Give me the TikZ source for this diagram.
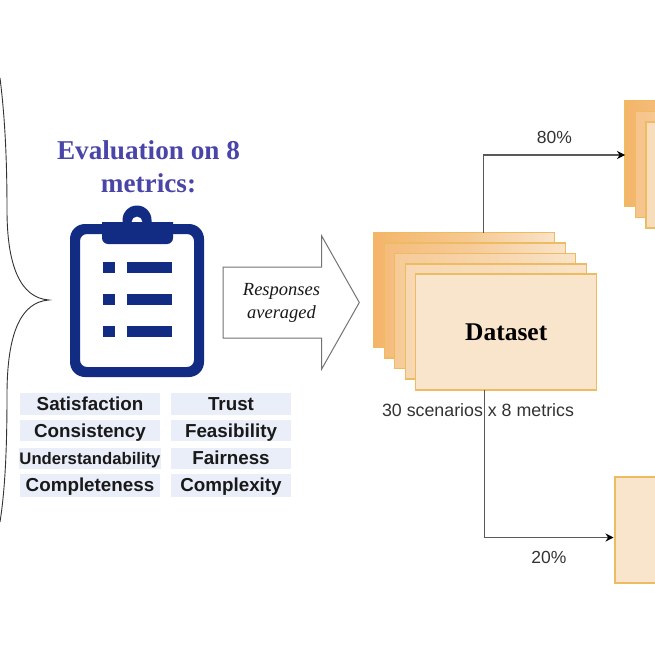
\documentclass[tikz,border=0pt]{standalone}
\usepackage{fontspec}
\setmainfont{Liberation Serif}
\setsansfont{Liberation Sans}
\usetikzlibrary{arrows.meta,calc}
\definecolor{edgeor}{HTML}{EDBB62}
\definecolor{front}{HTML}{F9E5CC}
\definecolor{indigo}{HTML}{4A45A8}
\definecolor{navy}{HTML}{122C83}
\definecolor{chip}{HTML}{E9EEF8}
\definecolor{ink}{HTML}{333333}
\definecolor{ga}{HTML}{F4B56A}
\definecolor{gb}{HTML}{F5BC7C}
\definecolor{gc}{HTML}{F6CB98}
\definecolor{gd}{HTML}{F7D8B2}
\definecolor{ge}{HTML}{F8DDBC}
\definecolor{gf}{HTML}{F6C48C}
\definecolor{ra}{HTML}{F9E3C8}
\tikzset{
  x=1pt,y=-1pt,
  card/.style={draw=edgeor,line width=1.4pt,outer sep=0pt,inner sep=0pt,minimum width=181pt,minimum height=#1},
  card/.default=115pt,
  grad/.style={left color=#1,right color=ra,middle color=#1!60!ra},
  chiptext/.style={fill=chip,text=black!90,font=\sffamily\bfseries\fontsize{18.8}{20}\selectfont,inner sep=0pt,outer sep=0pt,minimum height=21.5pt,text depth=0pt},
  leftchip/.style={chiptext,minimum width=140pt},
  rightchip/.style={chiptext,minimum width=120pt},
  conn/.style={draw=black!65,line width=1.2pt,-{Stealth[length=8pt,width=8pt,black]}},
  pct/.style={font=\sffamily\fontsize{17.5}{20}\selectfont,text=ink,inner sep=0pt},
}
\begin{document}
\begin{tikzpicture}
\useasboundingbox (0,0) rectangle (655,655);
\clip (0,0) rectangle (655,655);
\fill[white] (0,0) rectangle (655,655);

% brace
\draw[black!80,line width=0.9pt] (0,78) .. controls (4,110) and (7,150) .. (7,210)
  .. controls (7,265) and (20,298) .. (49,300)
  .. controls (20,302) and (7,335) .. (7,395)
  .. controls (7,450) and (5,490) .. (0,522);

% title
\node[align=center,text=indigo,inner sep=0pt,font=\rmfamily\bfseries\fontsize{27.2}{33}\selectfont] (title) at (148.5,166.5) {Evaluation on 8\\metrics:};

% clipboard
\fill[navy,even odd rule]
  (85,224) -- (189,224) arc[start angle=-90,end angle=0,radius=15] -- (204,362) arc[start angle=0,end angle=90,radius=15] -- (85,377) arc[start angle=90,end angle=180,radius=15] -- (70,239) arc[start angle=180,end angle=270,radius=15] -- cycle
  (87,234) -- (187,234) arc[start angle=-90,end angle=0,radius=7] -- (194,360) arc[start angle=0,end angle=90,radius=7] -- (87,367) arc[start angle=90,end angle=180,radius=7] -- (80,241) arc[start angle=180,end angle=270,radius=7] -- cycle;
\fill[navy] (102,222) -- (173,222) -- (173,238) arc[start angle=0,end angle=90,radius=6] -- (108,244) arc[start angle=90,end angle=180,radius=6] -- cycle;
\fill[navy,even odd rule] (122.5,224) -- (122.5,220) arc[start angle=180,end angle=360,radius=14.5] -- (151.5,224) -- cycle
  (131.5,222) arc[start angle=180,end angle=360,radius=5.5] -- cycle;
\foreach \yy in {262,294,325.5}{
  \fill[navy] (103,\yy) rectangle (115,\yy+11.3);
  \fill[navy] (127,\yy) rectangle (172,\yy+11.3);
}

% metric chips
\node[leftchip,minimum height=22pt] (m1) at (90,404) {Satisfaction};
\node[leftchip,minimum height=21.5pt] (m2) at (90,430.7) {Consistency};
\node[leftchip,minimum height=21pt,font=\sffamily\bfseries\fontsize{16.7}{18}\selectfont] (m3) at (90,458) {Understandability};
\node[leftchip,minimum height=23pt] (m4) at (90,485) {Completeness};
\node[rightchip,minimum height=22pt] (m5) at (231,404) {Trust};
\node[rightchip,minimum height=21.5pt] (m6) at (231,430.7) {Feasibility};
\node[rightchip,minimum height=21pt] (m7) at (231,458) {Fairness};
\node[rightchip,minimum height=23pt] (m8) at (231,485) {Complexity};

% block arrow
\draw[black!55,line width=1pt,fill=white,line join=miter] (223,267) -- (321.7,267) -- (321.7,236) -- (359.3,302.5) -- (321.7,369) -- (321.7,338) -- (223,338) -- cycle;
\node[align=center,inner sep=0pt,text=black!90,font=\rmfamily\itshape\fontsize{18.5}{23}\selectfont] (avg) at (281.5,302.5) {Responses\\averaged};

% dataset stack
\node[card,grad=ga] (d1) at (464.2,290.2) {};
\node[card,grad=gb] (d2) at (474.7,300.6) {};
\node[card,grad=gc] (d3) at (485.2,311) {};
\node[card,grad=gd] (d4) at (495.7,321.4) {};
\node[card,fill=front,minimum height=116pt,font=\rmfamily\bfseries\fontsize{25.5}{26}\selectfont] (d5) at (506.2,332) {Dataset};
\node[inner sep=0pt,text=ink,font=\sffamily\fontsize{17.8}{19}\selectfont] (dims) at (478,410) {30 scenarios x 8 metrics};

% training stack
\node[card=106pt,grad=ga,anchor=north west] (t1) at (625,100.7) {};
\node[card=106pt,grad=gf,anchor=north west] (t2) at (635.7,111.3) {};
\node[card=106pt,grad=ge,anchor=north west] (t3) at (646,122) {};

% test box
\node[card=106pt,fill=front,anchor=north west] (e1) at (615,477) {};

% connectors
\coordinate (up) at (483.5,155);
\coordinate (dn) at (484.5,537.5);
\draw[conn] (up |- d1.north) |- (t1.west |- up);
\draw[conn] (dn |- d5.south) |- ($(e1.west |- dn)+(-1.5,0)$);
\node[pct] (p80) at (554.5,137) {80\%};
\node[pct] (p20) at (549,557) {20\%};
\end{tikzpicture}
\end{document}
